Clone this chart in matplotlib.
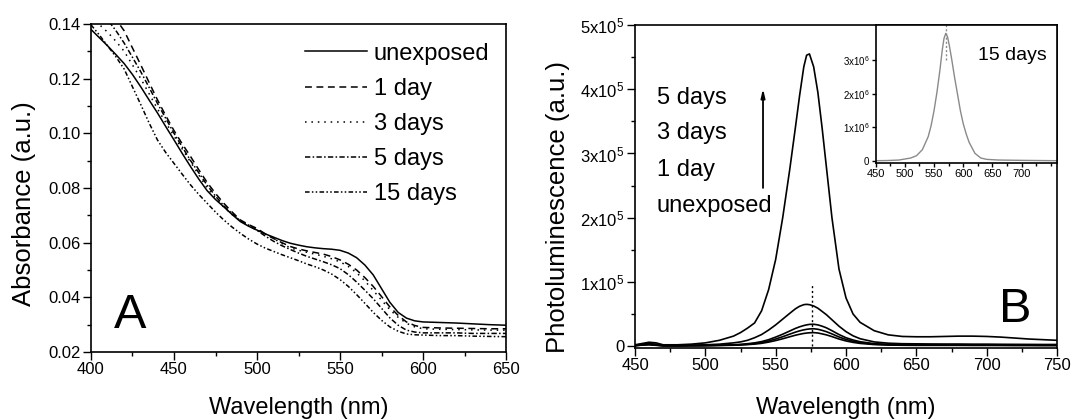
import numpy as np
import matplotlib
matplotlib.use('Agg')
import matplotlib.pyplot as plt
from matplotlib.ticker import MultipleLocator, FixedLocator, FixedFormatter

plt.rcParams['font.family'] = ['Liberation Sans', 'DejaVu Sans']
plt.rcParams['mathtext.fontset'] = 'custom'
plt.rcParams['mathtext.rm'] = 'Liberation Sans'

# ---- panel A: absorbance ----
wl_abs = [400, 405, 410, 415, 420, 425, 430, 435, 440, 445, 450, 455, 460, 465, 470, 475,
          480, 485, 490, 495, 500, 505, 510, 515, 520, 525, 530, 535, 540, 545, 550, 555,
          560, 565, 570, 575, 580, 585, 590, 595, 600, 610, 620, 630, 640, 650]
abs_unexposed = [.1380, .1350, .1320, .1288, .1255, .1215, .1170, .1122, .1075, .1025, .0976,
                 .0926, .0878, .0832, .0790, .0758, .0731, .0703, .0677, .0660, .0646, .0632,
                 .0620, .0608, .0598, .0591, .0585, .0581, .0578, .0576, .0572, .0562, .0545,
                 .0518, .0482, .0432, .0382, .0345, .0324, .0314, .0310, .0308, .0306, .0303,
                 .0300, .0298]
abs_1day = [.152, .1488, .1455, .1418, .1375, .1312, .1250, .1186, .1123, .1065, .1010, .0961,
            .0915, .0866, .0820, .0780, .0744, .0712, .0683, .0666, .0652, .0632, .0615, .0600,
            .0586, .0577, .0570, .0564, .0558, .0549, .0537, .0521, .0500, .0472, .0440, .0403,
            .0365, .0334, .0310, .0297, .0290, .0288, .0287, .0286, .0285, .0285]
abs_3days = [.1425, .1398, .1370, .1337, .1300, .1250, .1200, .1145, .1090, .1040, .0990, .0942,
             .0895, .0847, .0800, .0763, .0730, .0703, .0680, .0664, .0650, .0632, .0615, .0597,
             .0581, .0572, .0565, .0558, .0550, .0541, .0530, .0513, .0490, .0460, .0425, .0390,
             .0355, .0327, .0305, .0292, .0285, .0283, .0282, .0281, .0280, .0280]
abs_5days = [.146, .1440, .1415, .1376, .1330, .1278, .1225, .1168, .1110, .1055, .1000, .0950,
             .0900, .0855, .0810, .0770, .0735, .0706, .0680, .0662, .0645, .0624, .0605, .0589,
             .0575, .0562, .0550, .0540, .0530, .0519, .0505, .0483, .0456, .0426, .0395, .0360,
             .0325, .0298, .0280, .0273, .0270, .0270, .0270, .0268, .0268, .0268]
abs_15days = [.1397, .1360, .1320, .1280, .1235, .1170, .1105, .1038, .0976, .0930, .0890, .0850,
              .0811, .0776, .0744, .0712, .0683, .0657, .0634, .0613, .0595, .0580, .0568, .0556,
              .0545, .0534, .0522, .0512, .0500, .0485, .0465, .0440, .0410, .0378, .0345, .0316,
              .0292, .0276, .0266, .0263, .0262, .0260, .0260, .0258, .0257, .0256]
abs_labels = ['unexposed', '1 day', '3 days', '5 days', '15 days']

# ---- panel B: photoluminescence (units of 1e5) ----
wl_pl = [450, 455, 460, 465, 470, 480, 490, 500, 510, 520, 525, 530, 535, 540, 545, 550, 555,
         560, 564, 567, 570, 572, 574, 577, 580, 583, 586, 590, 595, 600, 605, 610, 620, 630,
         640, 650, 660, 670, 680, 690, 700, 710, 720, 730, 740, 750]
pl_5days = [.02, .04, .06, .05, .02, .02, .03, .05, .09, .155, .21, .28, .36, .55, .88, 1.35,
            2.0, 2.75, 3.4, 3.9, 4.35, 4.53, 4.55, 4.35, 3.95, 3.4, 2.8, 2.0, 1.2, .75, .5, .37,
            .24, .175, .15, .145, .145, .15, .155, .155, .15, .14, .125, .11, .10, .09]
pl_3days = [.01, .03, .04, .03, .01, .01, .015, .02, .03, .05, .065, .09, .13, .18, .25, .33,
            .42, .51, .58, .62, .645, .65, .645, .625, .59, .54, .49, .41, .31, .225, .16, .115,
            .065, .045, .037, .035, .033, .032, .032, .03, .03, .028, .027, .026, .025, .025]
pl_1day = [.01, .02, .03, .02, .005, .005, .008, .01, .015, .02, .027, .037, .05, .07, .10, .14,
           .185, .235, .275, .30, .32, .33, .338, .34, .33, .31, .285, .24, .18, .13, .095, .068,
           .038, .026, .022, .02, .02, .02, .02, .018, .018, .017, .016, .015, .015, .015]
pl_unexp_a = [.005, .02, .025, .015, .005, .004, .006, .008, .012, .016, .021, .029, .04, .055,
              .079, .11, .146, .186, .217, .237, .253, .261, .267, .27, .262, .245, .225, .19,
              .142, .103, .075, .054, .03, .021, .017, .015, .015, .015, .015, .014, .014, .013,
              .012, .012, .011, .011]
pl_unexp_b = [.005, .015, .02, .012, .004, .003, .005, .006, .009, .013, .017, .023, .031, .043,
              .062, .086, .114, .145, .169, .184, .197, .203, .207, .21, .204, .19, .175, .148,
              .11, .08, .058, .042, .024, .016, .013, .011, .011, .011, .011, .01, .01, .01, .009,
              .009, .008, .008]
pl_peak_marker = 576
pl_order = ['5 days', '3 days', '1 day', 'unexposed']

# ---- inset: 15 days (units of 1e6) ----
wl_inset = [450, 470, 490, 500, 510, 520, 530, 540, 545, 550, 555, 560, 564, 567, 570, 573,
            576, 580, 585, 590, 595, 600, 605, 610, 620, 630, 640, 660, 700, 760]
pl_15days = [0.0, .005, .02, .05, .08, .15, .33, .72, 1.05, 1.5, 2.05, 2.7, 3.3, 3.65, 3.8,
             3.7, 3.45, 3.05, 2.5, 2.0, 1.5, 1.1, .8, .55, .22, .08, .04, .02, .01, 0.0]
inset_peak_marker = 570

fig = plt.figure(figsize=(10.73, 4.2), dpi=100)
axA = fig.add_axes([0.0848, 0.1619, 0.3868, 0.781])
axB = fig.add_axes([0.5918, 0.1714, 0.3933, 0.769])
axI = fig.add_axes([0.8161, 0.6126, 0.1687, 0.3279])

def style(ax, size=12, major=6, minor=3):
    for s in ax.spines.values():
        s.set_linewidth(1.2)
    ax.tick_params(which='major', direction='out', length=major, width=1, labelsize=size,
                   top=False, right=False, pad=1.5)
    ax.tick_params(which='minor', direction='out', length=minor, width=1, top=False, right=False)

# panel A
styles = ['-', (0, (4.5, 3)), (0, (1, 3.2)), (0, (3.5, 1.5, 1, 1.5)), (0, (3, 1.5, 1, 1.5, 1, 1.5))]
series = [abs_unexposed, abs_1day, abs_3days, abs_5days, abs_15days]
for vals, ls, lab in zip(series, styles, abs_labels):
    axA.plot(wl_abs, vals, color='black', lw=1.1, linestyle=ls, label=lab)
axA.set_xlim(400, 650)
axA.set_ylim(0.02, 0.14)
axA.xaxis.set_major_locator(MultipleLocator(50))
axA.xaxis.set_minor_locator(MultipleLocator(25))
axA.yaxis.set_major_locator(MultipleLocator(0.02))
axA.yaxis.set_minor_locator(MultipleLocator(0.01))
axA.yaxis.set_major_formatter(plt.FormatStrFormatter('%.2f'))
style(axA)
axA.set_xlabel('Wavelength (nm)', fontsize=17)
axA.set_ylabel('Absorbance (a.u.)', fontsize=18.5)
axA.xaxis.set_label_coords(0.5, -0.137)
axA.yaxis.set_label_coords(-0.1325, 0.451)
axA.legend(loc='upper left', bbox_to_anchor=(0.516, 0.943), frameon=False, fontsize=17,
           handlelength=2.6, handletextpad=0.3, labelspacing=0.555, borderpad=0, borderaxespad=0)
axA.text(423.5, 0.0286, 'A', fontsize=35, ha='center', va='baseline')

# panel B
for vals in [pl_5days, pl_3days, pl_1day, pl_unexp_a, pl_unexp_b]:
    axB.plot(wl_pl, np.array(vals) * 1e5, color='black', lw=1.2)
axB.plot([pl_peak_marker, pl_peak_marker], [0, 0.97e5], color='black', lw=1, linestyle=(0, (1.5, 2)))
axB.set_xlim(450, 750)
axB.set_ylim(-3000, 5e5)
axB.xaxis.set_major_locator(MultipleLocator(50))
axB.xaxis.set_minor_locator(MultipleLocator(25))
yt = [0, 1e5, 2e5, 3e5, 4e5, 5e5]
axB.yaxis.set_major_locator(FixedLocator(yt))
axB.yaxis.set_major_formatter(FixedFormatter(['0'] + [r'$\mathregular{%dx10^5}$' % k for k in range(1, 6)]))
axB.yaxis.set_minor_locator(MultipleLocator(0.5e5))
style(axB)
axB.set_xlabel('Wavelength (nm)', fontsize=17)
axB.set_ylabel('Photoluminescence (a.u.)', fontsize=18.5)
axB.xaxis.set_label_coords(0.5, -0.152)
axB.yaxis.set_label_coords(-0.154, 0.436)
for lab, yv in zip(pl_order, [3.87e5, 3.32e5, 2.75e5, 2.18e5]):
    axB.text(465.4, yv, lab, fontsize=17, ha='left', va='center')
axB.annotate('', xy=(541, 4.05e5), xytext=(541, 2.42e5),
             arrowprops=dict(arrowstyle='-|>,head_length=0.5,head_width=0.12', color='black', lw=1.3))
axB.text(720, 0.37e5, 'B', fontsize=35, ha='center', va='baseline')

# inset
axI.plot(wl_inset, np.array(pl_15days) * 1e6, color='#8a8a8a', lw=1)
axI.plot([inset_peak_marker, inset_peak_marker], [3.0e6, 4.05e6], color='#8a8a8a', lw=1,
         linestyle=(0, (1.5, 1.5)))
axI.set_xlim(450, 760)
axI.set_ylim(-0.06e6, 4.05e6)
axI.xaxis.set_major_locator(FixedLocator([450, 500, 550, 600, 650, 700]))
axI.xaxis.set_minor_locator(MultipleLocator(25))
axI.yaxis.set_major_locator(FixedLocator([0, 1e6, 2e6, 3e6]))
axI.yaxis.set_major_formatter(FixedFormatter(['0'] + [r'$\mathregular{%dx10^6}$' % k for k in range(1, 4)]))
style(axI, size=8, major=3, minor=2)
axI.tick_params(axis='y', labelsize=7)
axI.text(0.565, 0.782, '15 days', transform=axI.transAxes, fontsize=14, ha='left', va='center')

fig.savefig('out.png', dpi=100)
